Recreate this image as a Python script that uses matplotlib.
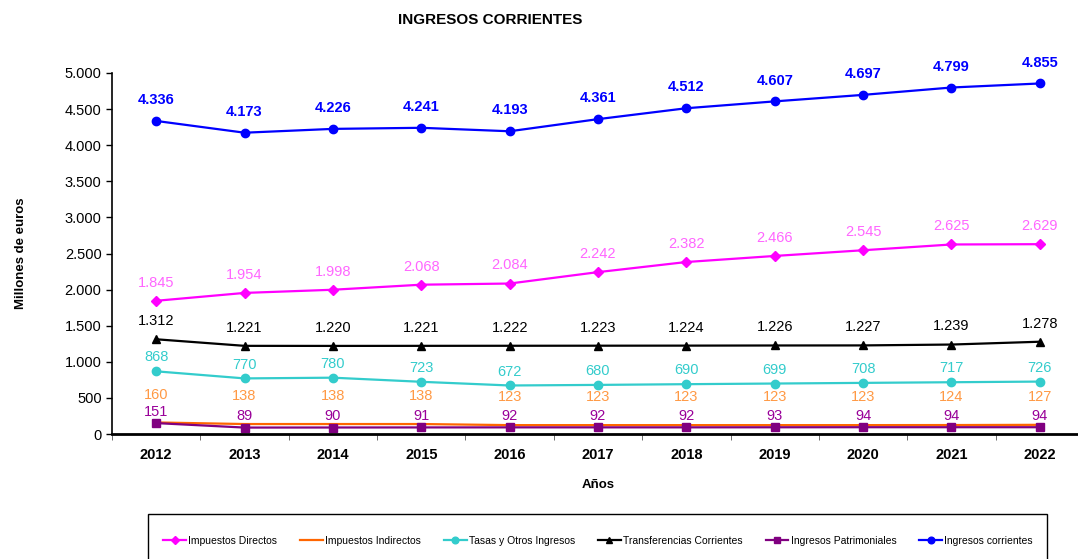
import matplotlib
matplotlib.use('Agg')
import matplotlib.pyplot as plt
from matplotlib.patches import Rectangle

plt.rcParams['font.family'] = ['Liberation Sans', 'DejaVu Sans']

years = ['2012', '2013', '2014', '2015', '2016', '2017', '2018', '2019', '2020', '2021', '2022']
directos = [1845, 1954, 1998, 2068, 2084, 2242, 2382, 2466, 2545, 2625, 2629]
indirectos = [160, 138, 138, 138, 123, 123, 123, 123, 123, 124, 127]
tasas = [868, 770, 780, 723, 672, 680, 690, 699, 708, 717, 726]
transferencias = [1312, 1221, 1220, 1221, 1222, 1223, 1224, 1226, 1227, 1239, 1278]
patrimoniales = [151, 89, 90, 91, 92, 92, 92, 93, 94, 94, 94]
corrientes = [4336, 4173, 4226, 4241, 4193, 4361, 4512, 4607, 4697, 4799, 4855]

def fmt(v):
    return f'{v:,}'.replace(',', '.')

fig = plt.figure(figsize=(10.78, 5.59), dpi=100)
ax = fig.add_axes([112/1078, 1 - 434/559, 972/1078, 361/559])
x = list(range(len(years)))

series = [
    # values, name, line colour, marker, label colour, label offset (pt), bold
    (directos, 'Impuestos Directos', '#FF00FF', 'D', '#FF66FF', 13, False),
    (indirectos, 'Impuestos Indirectos', '#FF6600', None, '#FF9944', 20, False),
    (tasas, 'Tasas y Otros Ingresos', '#33CCCC', 'o', '#33CCCC', 10, False),
    (transferencias, 'Transferencias Corrientes', '#000000', '^', '#000000', 13, False),
    (patrimoniales, 'Ingresos Patrimoniales', '#800080', 's', '#990099', 8, False),
    (corrientes, 'Ingresos corrientes', '#0000FF', 'o', '#0000FF', 15, True),
]

for vals, name, c, m, lc, off, bold in series:
    ax.plot(x, vals, color=c, lw=1.6, marker=m, ms=6 if m != 'D' else 5,
            label=name)
    for xi, v in zip(x, vals):
        ax.annotate(fmt(v), (xi, v), xytext=(0, off), textcoords='offset points',
                    ha='center', va='center', color=lc, fontsize=10.5,
                    fontweight='bold' if bold else 'normal')

ax.set_xlim(-0.5, 10.5)
ax.set_ylim(0, 5000)
ax.set_yticks(range(0, 5001, 500))
ax.set_yticklabels([fmt(v) for v in range(0, 5001, 500)], fontsize=10.5)
ax.set_xticks(x)
ax.set_xticklabels(years, fontsize=10.5, fontweight='bold')
ax.set_xticks([i + 0.5 for i in range(-1, 11)], minor=True)
ax.tick_params(axis='x', which='major', length=0, pad=10)
ax.tick_params(axis='x', which='minor', length=4, direction='out', color='#555555')
ax.tick_params(axis='y', length=4, width=1, direction='out')
for s in ['top', 'right']:
    ax.spines[s].set_visible(False)
ax.spines['left'].set_linewidth(1.2)
ax.spines['bottom'].set_linewidth(2)

ax.set_xlabel('Años', fontsize=9.5, fontweight='bold', labelpad=12)
ax.set_ylabel('Millones de euros', fontsize=9.5, fontweight='bold', labelpad=27)
fig.text(490/1078, 1 - 20/559, 'INGRESOS CORRIENTES', ha='center', va='center',
         fontsize=11, fontweight='bold')

fig.patches.append(Rectangle((148/1078, -0.05), 899/1078, 0.05 + 1 - 514/559,
                             transform=fig.transFigure, fill=False,
                             edgecolor='black', lw=1))
fig.legend(loc='center', bbox_to_anchor=(598/1078, 1 - 541/559), ncol=6,
           frameon=False, fontsize=7.5, handlelength=2.2, handletextpad=0.2,
           columnspacing=2.2, markerscale=0.8)

fig.savefig('out.png', dpi=100)
